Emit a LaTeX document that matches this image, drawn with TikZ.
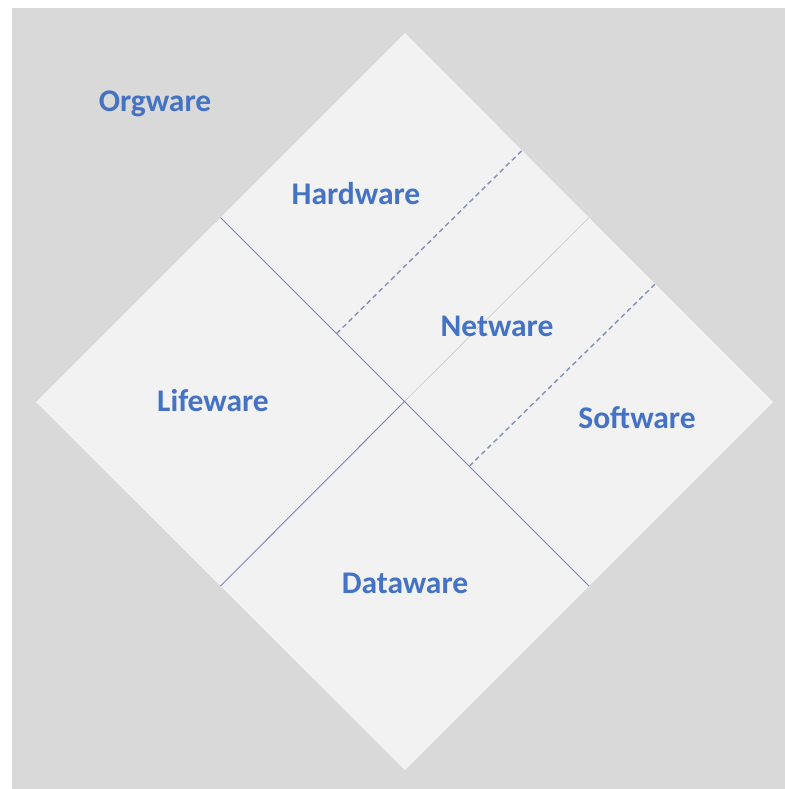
\documentclass[tikz,border=0pt]{standalone}
\usepackage{fontspec}
\setmainfont{Carlito}
\usetikzlibrary{calc}
\definecolor{bgGray}{HTML}{D9D9D9}
\definecolor{tileGray}{HTML}{F2F2F2}
\definecolor{wareBlue}{HTML}{4472C4}
\definecolor{lineBlue}{HTML}{7884C4}
\definecolor{dashBlue}{HTML}{8292B8}
\tikzset{
  ware/.style={text=wareBlue, font=\fontsize{31.5}{36}\bfseries\selectfont, anchor=base, inner sep=0pt},
  split/.style={lineBlue, line width=0.9pt},
  faint/.style={gray!45, line width=0.6pt},
  subsplit/.style={dashBlue, dashed, dash pattern=on 5pt off 3.5pt, line width=1.4pt}
}
\begin{document}
\begin{tikzpicture}[x=1pt,y=-1pt]
      \useasboundingbox (0,0) rectangle (785,789);
      \fill[bgGray] (12,8) rectangle (785,789);
      % diamond corners and edge midpoints
      \coordinate (top) at (405,33);
      \coordinate (left) at (36,402);
      \coordinate (right) at (773,402);
      \coordinate (bottom) at (405,770);
      \coordinate (mid) at (405,401);
      \coordinate (nw) at ($(top)!0.5!(left)$);
      \coordinate (ne) at ($(top)!0.5!(right)$);
      \coordinate (sw) at ($(left)!0.5!(bottom)$);
      \coordinate (se) at ($(right)!0.5!(bottom)$);
      \fill[tileGray] (top)--(right)--(bottom)--(left)--cycle;
      \draw[split] (nw)--(se);
      \draw[split] (sw)--(mid);
      \draw[faint] (mid)--(ne);
      \draw[subsplit] ($(nw)!0.315!(se)$)--($(top)!0.318!(right)$);
      \draw[subsplit] ($(nw)!0.675!(se)$)--($(top)!0.68!(right)$);
      \node[ware] (org) at (155,112) {Orgware};
      \node[ware] (hard) at (356,204) {Hardware};
      \node[ware] (net) at (497,336) {Netware};
      \node[ware] (life) at (213,411) {Lifeware};
      \node[ware] (soft) at (637,428) {Software};
      \node[ware] (data) at (405,593) {Dataware};
\end{tikzpicture}
\end{document}
